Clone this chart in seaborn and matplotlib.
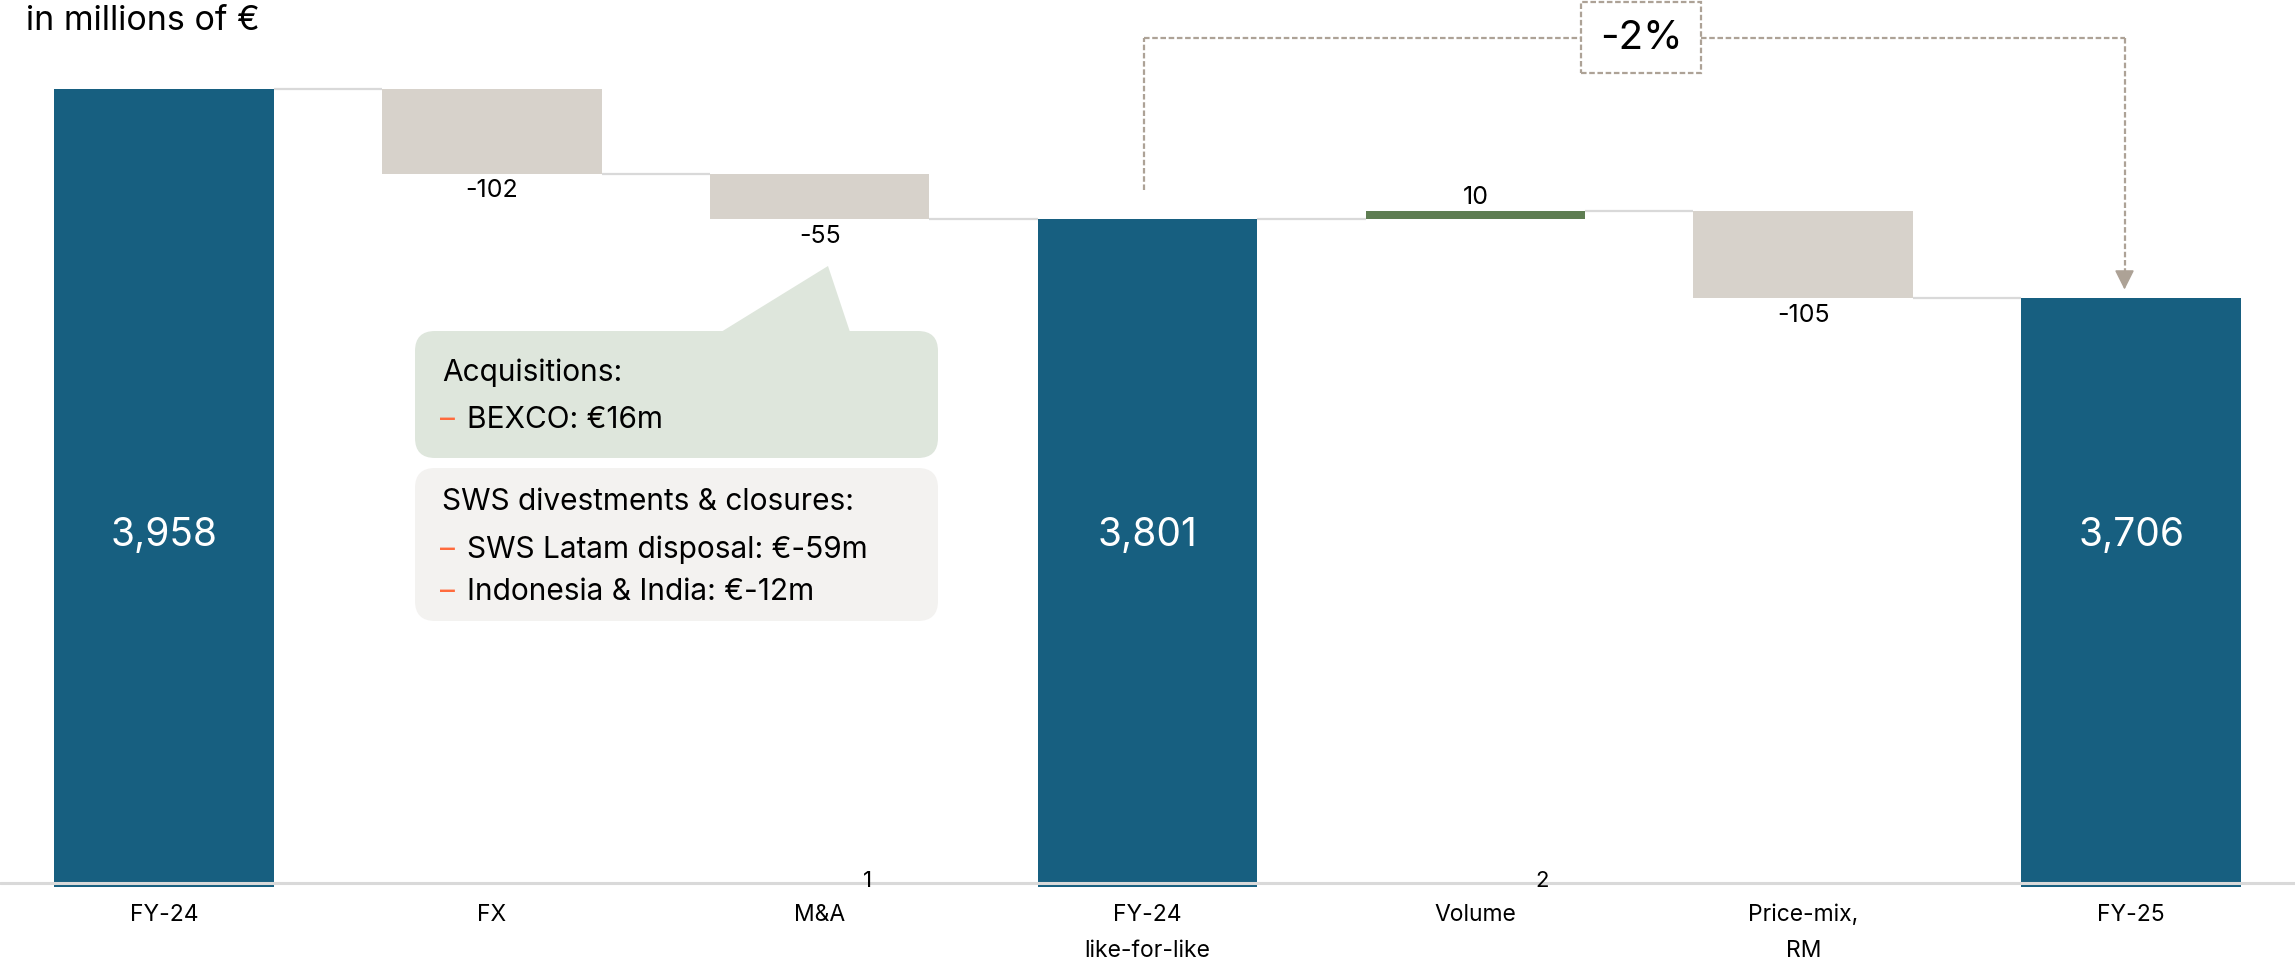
import numpy as np
import pandas as pd
import matplotlib
matplotlib.use("Agg")
import matplotlib.pyplot as plt
import matplotlib.transforms as mtransforms
from matplotlib.patches import FancyBboxPatch, Polygon, Rectangle
import seaborn as sns

# ---------------- data ----------------
categories = ["FY-24", "FX", "M&A", "FY-24\nlike-for-like", "Volume", "Price-mix,\nRM", "FY-25"]
values = [3958, -102, -55, 3801, 10, -105, 3706]
is_total = [True, False, False, True, False, False, True]
footnote_marks = ["1", "2"]
footnote_x = [2.146, 4.204]
unit_label = "in millions of €"
acq_title = "Acquisitions:"
acq_items = ["BEXCO: €16m"]
div_title = "SWS divestments & closures:"
div_items = ["SWS Latam disposal: €-59m", "Indonesia & India: €-12m"]

# ---------------- style ----------------
BLUE = "#175F80"
NEG = "#D7D2CB"
POS = "#5E7D52"
CONN = "#D9D9D9"
BRACKET = "#ADA296"
GREEN_BOX = "#DEE6DC"
GRAY_BOX = "#F3F2F0"
ORANGE = "#FF6B3D"

sns.set_theme(style="white")
plt.rcParams["font.family"] = ["Inter", "DejaVu Sans"]

W, H = 2295, 958
fig = plt.figure(figsize=(W / 100, H / 100), dpi=100)
base_px = 883
ax = fig.add_axes([0, (H - base_px) / H, 1, base_px / H])
axis_base = 3000
px_per_unit = 0.8288
ytop = axis_base + base_px / px_per_unit
bar_w = 0.67

# waterfall geometry
bottoms, heights, levels, kinds = [], [], [], []
running = 0
for v, t in zip(values, is_total):
    if t:
        b = axis_base - 5
        h = v - b
        running = v
        kinds.append("total")
    else:
        b = running + min(v, 0)
        h = abs(v)
        running += v
        kinds.append("neg" if v < 0 else "pos")
    bottoms.append(b)
    heights.append(h)
    levels.append(running)

for k, col in [("total", BLUE), ("neg", NEG), ("pos", POS)]:
    idx = [i for i in range(len(categories)) if kinds[i] == k]
    sns.barplot(x=[categories[i] for i in idx], y=[heights[i] for i in idx],
                bottom=[bottoms[i] for i in idx], order=categories, color=col,
                width=bar_w, errorbar=None, linewidth=0, saturation=1, ax=ax,
                clip_on=False, zorder=2)

ax.set_xlim(-0.5, len(categories) - 0.5)
ax.set_ylim(axis_base, ytop)
for s in ax.spines.values():
    s.set_visible(False)
ax.set_yticks([])
ax.set_xlabel("")
ax.set_ylabel("")
ax.set_xticks(range(len(categories)))
ax.set_xticklabels(categories, fontsize=16.5, color="black")
ax.tick_params(axis="x", length=0, pad=15)
for lbl in ax.get_xticklabels():
    lbl.set_linespacing(1.85)
ax.axhline(axis_base, color=CONN, lw=2.2, zorder=5, clip_on=False)

# connectors
for i in range(len(categories) - 1):
    ax.plot([i + bar_w / 2, i + 1 - bar_w / 2], [levels[i], levels[i]],
            color=CONN, lw=1.6, zorder=1, solid_capstyle="butt")

# value labels
blend = mtransforms.blended_transform_factory(ax.transData, ax.transAxes)
for i, (v, k) in enumerate(zip(values, kinds)):
    if k == "total":
        ax.text(i, 0.394, f"{v:,}", transform=blend, ha="center", va="center",
                color="white", fontsize=28)
    elif k == "neg":
        ax.annotate(f"{v}", (i, bottoms[i]), xytext=(0, -12.5), textcoords="offset points",
                    ha="center", va="center", fontsize=18, color="black")
    else:
        ax.annotate(f"{v}", (i, bottoms[i] + heights[i]), xytext=(0, 9.5),
                    textcoords="offset points", ha="center", va="center", fontsize=18,
                    color="black")

for m, x in zip(footnote_marks, footnote_x):
    ax.text(x, axis_base + 2, m, ha="center", va="center", fontsize=16, color="black", zorder=6)

# bracket with -2%
lfl_i, end_i = 3, 6
pct = (values[end_i] / values[lfl_i] - 1) * 100
y_br = ytop - 45.8
x_left = lfl_i - 0.01
x_right = end_i - 0.02
box_x0, box_x1 = 4.323, 4.689
box_y0, box_y1 = ytop - 88, ytop - 2.4
dash = dict(color=BRACKET, lw=1.6, linestyle=(0, (2.5, 1.2)), zorder=3)
ax.plot([x_left, x_left], [values[lfl_i] + 35, y_br], **dash)
ax.plot([x_left, box_x0], [y_br, y_br], **dash)
ax.plot([box_x1, x_right], [y_br, y_br], **dash)
tip = values[end_i] + 10
ax.plot([x_right, x_right], [y_br, tip + 14], **dash)
ax.annotate("", xy=(x_right, tip), xytext=(x_right, tip + 17),
            arrowprops=dict(arrowstyle="-|>,head_length=1.0,head_width=0.5",
                            color=BRACKET, lw=1.2, shrinkA=0, shrinkB=0))
ax.add_patch(Rectangle((box_x0, box_y0), box_x1 - box_x0, box_y1 - box_y0,
                       fill=False, edgecolor=BRACKET, lw=1.6,
                       linestyle=(0, (2.5, 1.2)), clip_on=False, zorder=3))
ax.text((box_x0 + box_x1) / 2, (box_y0 + box_y1) / 2 - 1, f"{pct:.0f}%",
        ha="center", va="center", fontsize=29, color="black")

# overlay in pixel coordinates for callouts and title
ov = fig.add_axes([0, 0, 1, 1], zorder=10)
ov.set_xlim(0, W)
ov.set_ylim(H, 0)
ov.axis("off")
ov.patch.set_alpha(0)

ov.text(26, 21, unit_label, fontsize=24.5, ha="left", va="center", color="black")

ov.add_patch(FancyBboxPatch((415, 331), 523, 127, boxstyle="round,pad=0,rounding_size=20",
                            facecolor=GREEN_BOX, edgecolor="none"))
ov.add_patch(Polygon([(721, 332), (850, 332), (828, 266)], closed=True,
                     facecolor=GREEN_BOX, edgecolor="none"))
ov.add_patch(FancyBboxPatch((415, 468), 523, 153, boxstyle="round,pad=0,rounding_size=20",
                            facecolor=GRAY_BOX, edgecolor="none"))

fs_c = 21.5
ov.text(442, 373, acq_title, fontsize=fs_c, ha="left", va="center", color="black")
for j, item in enumerate(acq_items):
    yy = 420 + j * 42
    ov.text(440, yy, "–", fontsize=fs_c, ha="left", va="center", color=ORANGE)
    ov.text(467, yy, item, fontsize=fs_c, ha="left", va="center", color="black")
ov.text(442, 502, div_title, fontsize=fs_c, ha="left", va="center", color="black")
for j, item in enumerate(div_items):
    yy = 550 + j * 42
    ov.text(440, yy, "–", fontsize=fs_c, ha="left", va="center", color=ORANGE)
    ov.text(467, yy, item, fontsize=fs_c, ha="left", va="center", color="black")

fig.savefig("out.png", dpi=100)
